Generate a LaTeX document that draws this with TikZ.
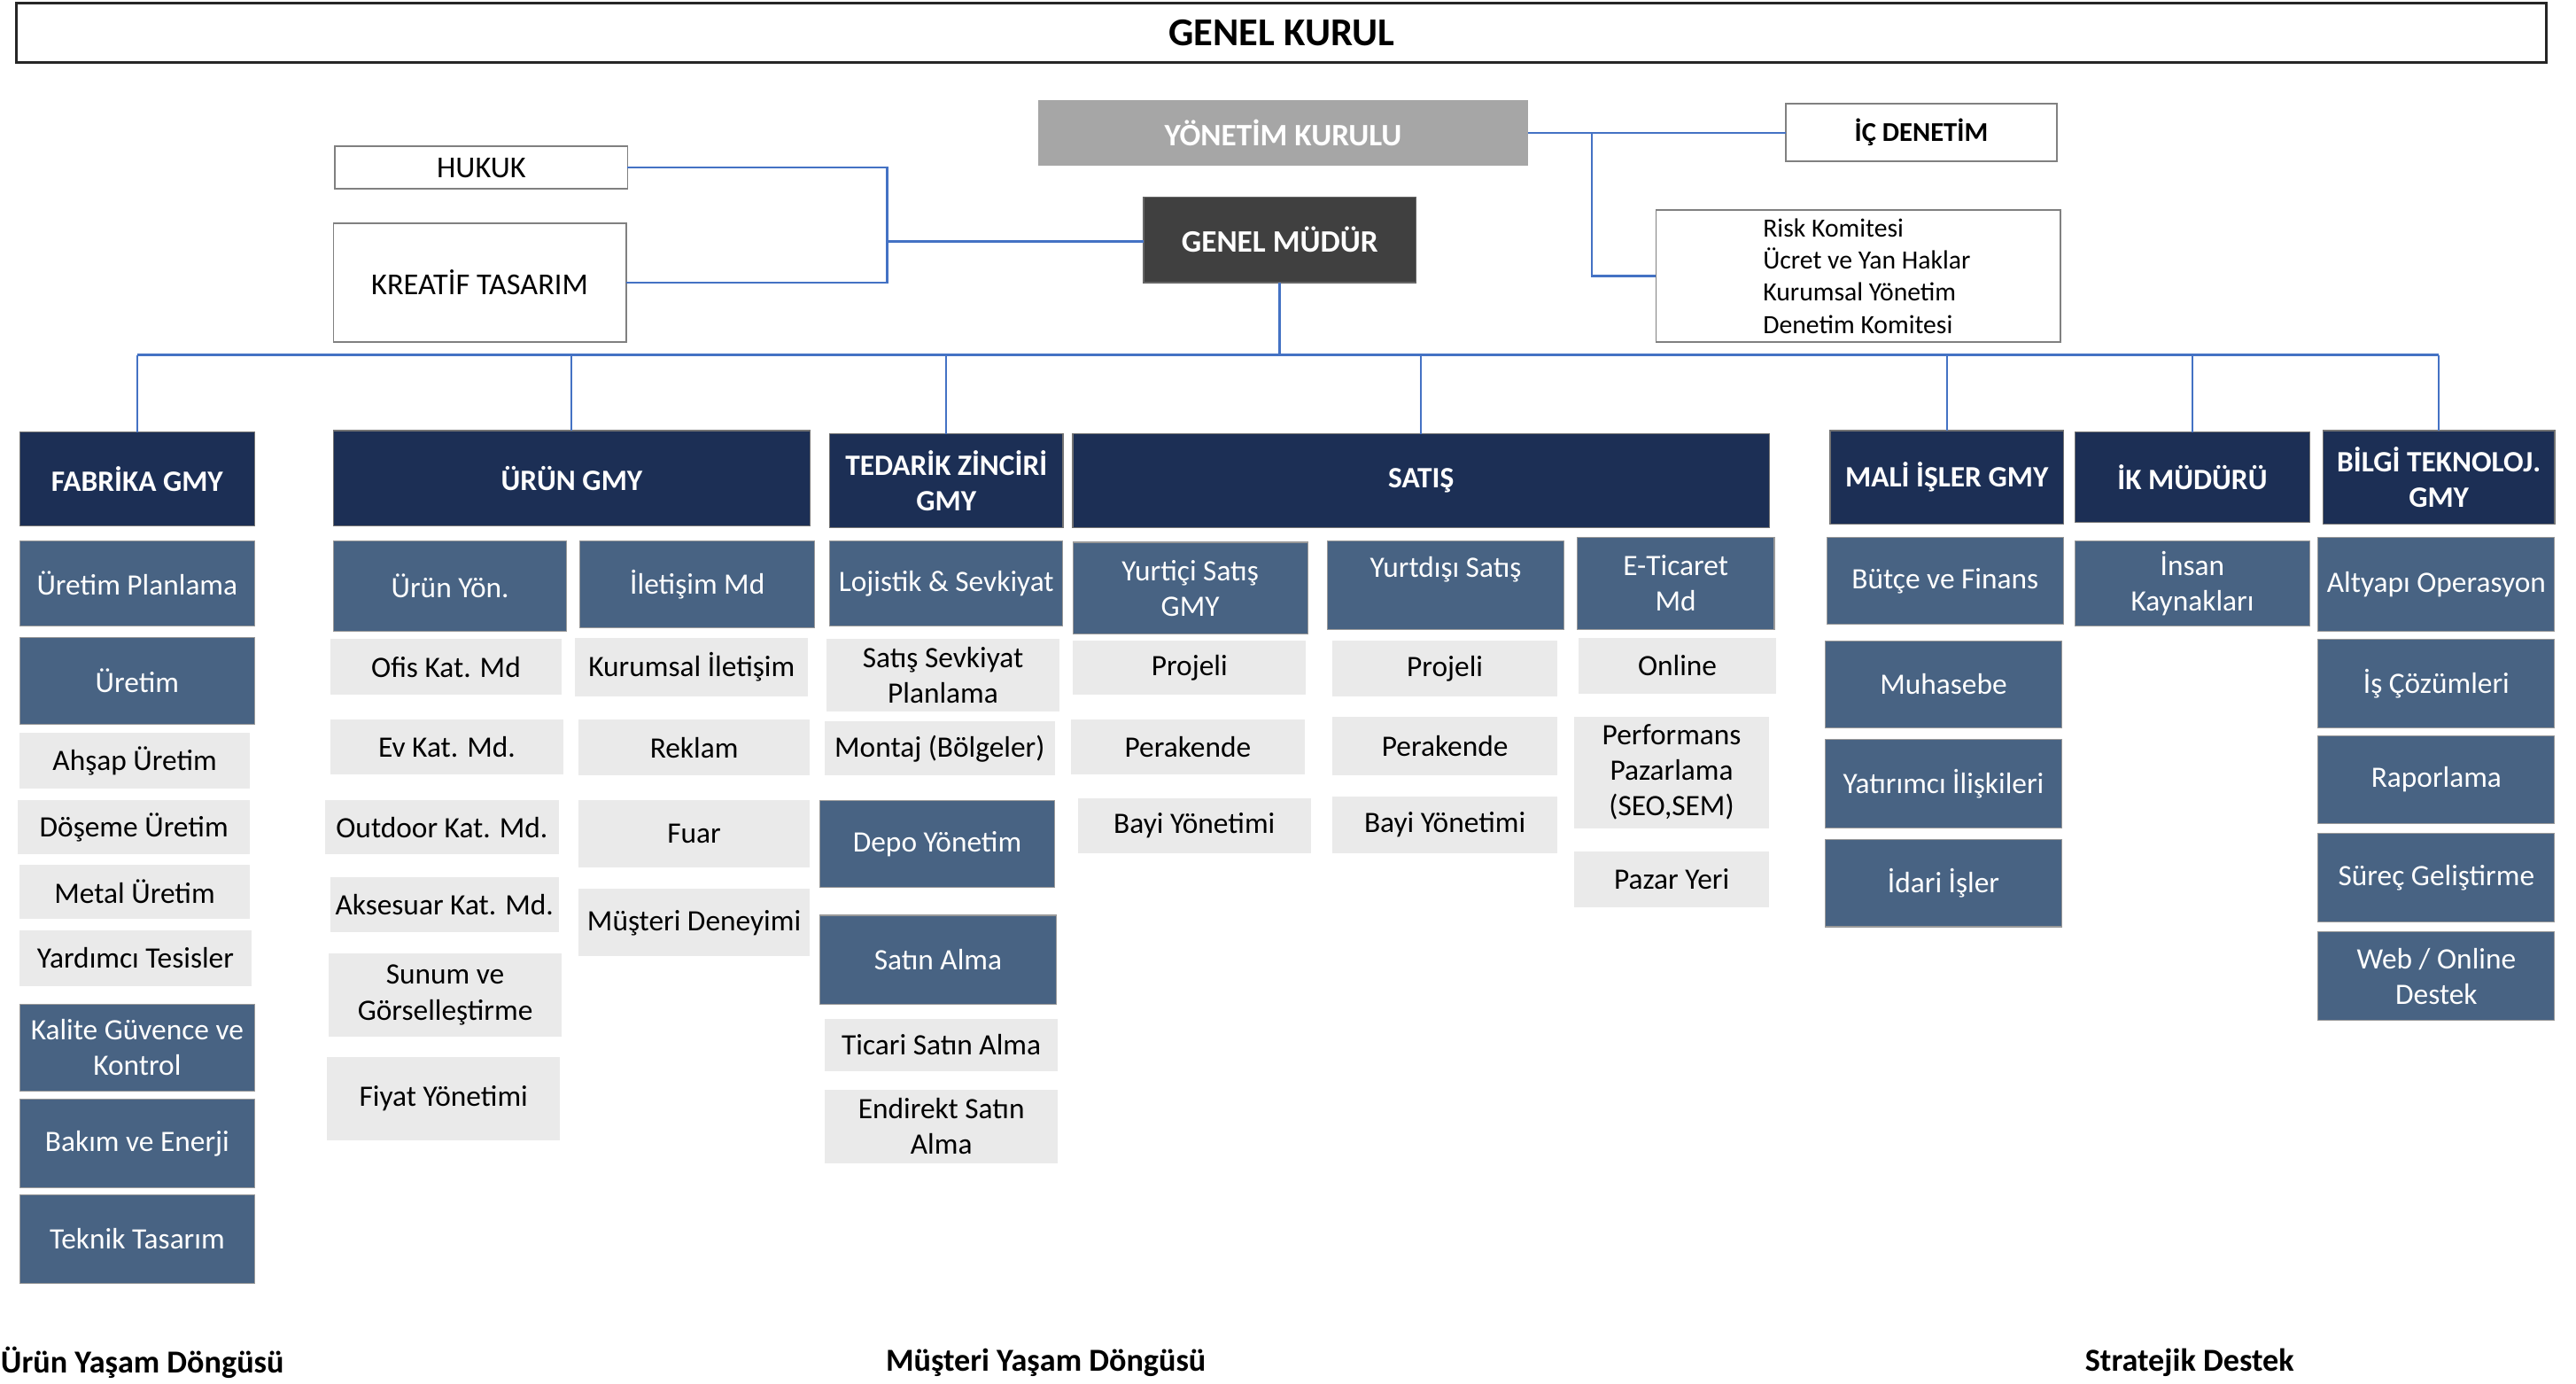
\documentclass[tikz,border=0pt]{standalone}
\usepackage{fontspec}
\setmainfont{Carlito}
\definecolor{navy}{HTML}{1C2F55}
\definecolor{slate}{HTML}{486383}
\definecolor{lightg}{HTML}{EAEAEA}
\definecolor{linkblue}{HTML}{4472C4}
\definecolor{ykgray}{HTML}{A6A6A6}
\definecolor{gmdark}{HTML}{404040}
\newcommand\obox[7]{\node[#1, minimum width={#5pt-#3pt}, minimum height={#6pt-#4pt}] (#2) at ({(#3+#5)/2},{(#4+#6)/2}) {#7};}
\tikzset{
  base/.style={rectangle, inner sep=0pt, outer sep=0pt, align=center, font=\fontsize{18}{21.6}\selectfont},
  navybox/.style={base, fill=navy, draw=black!55, line width=0.7pt, text=white, font=\fontsize{18}{21.6}\selectfont\bfseries},
  slatebox/.style={base, fill=slate, draw=black!40, line width=0.6pt, text=white},
  lightbox/.style={base, fill=lightg, text=black},
  whitebox/.style={base, fill=white, draw=black!50, line width=1pt, text=black},
  conn/.style={draw=linkblue, line width=1.3pt},
  footer/.style={font=\fontsize{19.5}{23}\selectfont\bfseries, inner sep=0pt, text=black}
}
\begin{document}
\begin{tikzpicture}[x=1pt,y=-1pt]
\useasboundingbox[fill=white] (0,0) rectangle (1568,842);
% top
\obox{base, draw=black!85, line width=1.5pt, font=\fontsize{24}{28}\selectfont\bfseries}{gk}{10}{2}{1550}{38}{GENEL KURUL}
\obox{base, fill=ykgray, text=white, font=\fontsize{19}{23}\selectfont\bfseries}{yk}{632}{61}{930}{101}{YÖNETİM KURULU}
\obox{whitebox, font=\fontsize{16.5}{20}\selectfont\bfseries}{ic}{1087}{63}{1252}{98}{İÇ DENETİM}
\obox{base, fill=gmdark, draw=black!60, line width=0.8pt, text=white, font=\fontsize{19}{23}\selectfont\bfseries}{gm}{696}{120}{862}{172}{GENEL MÜDÜR}
\obox{whitebox, font=\fontsize{18.5}{22}\selectfont}{hukuk}{204}{89}{382}{115}{HUKUK}
\obox{whitebox, font=\fontsize{18.5}{22}\selectfont}{kreatif}{203}{136}{381}{208}{KREATİF TASARIM}
\obox{whitebox}{kom}{1008}{128}{1254}{208}{}
\node[anchor=west, align=left, inner sep=0pt, font=\fontsize{16}{19.5}\selectfont] (komtext) at ([xshift=65pt]kom.west) {Risk Komitesi\\Ücret ve Yan Haklar\\Kurumsal Yönetim\\Denetim Komitesi};
% headers
\obox{navybox}{fab}{12}{263}{155}{320}{FABRİKA GMY}
\obox{navybox}{urun}{203}{262}{493}{320}{ÜRÜN GMY}
\obox{navybox}{ted}{505}{264}{647}{321}{TEDARİK ZİNCİRİ\\GMY}
\obox{navybox}{sat}{653}{264}{1077}{321}{SATIŞ}
\obox{navybox}{mali}{1114}{262}{1256}{319}{MALİ İŞLER GMY}
\obox{navybox}{ik}{1263}{263}{1406}{318}{İK MÜDÜRÜ}
\obox{navybox}{bilgi}{1414}{262}{1555}{319}{BİLGİ TEKNOLOJ.\\GMY}
% fabrika
\obox{slatebox}{uplan}{12}{329}{155}{381}{Üretim Planlama}
\obox{slatebox}{uret}{12}{388}{155}{441}{Üretim}
\obox{lightbox}{ahsap}{12}{446}{152}{480}{Ahşap Üretim}
\obox{lightbox}{doseme}{11}{487}{152}{520}{Döşeme Üretim}
\obox{lightbox}{metal}{12}{526}{152}{559}{Metal Üretim}
\obox{lightbox}{yard}{12}{566}{153}{600}{Yardımcı Tesisler}
\obox{slatebox}{kalite}{12}{611}{155}{664}{Kalite Güvence ve\\Kontrol}
\obox{slatebox}{bakim}{12}{669}{155}{723}{Bakım ve Enerji}
\obox{slatebox}{teknik}{12}{727}{155}{781}{Teknik Tasarım}
% urun
\obox{slatebox}{uyon}{203}{329}{345}{384}{Ürün Yön.}
\obox{slatebox}{iletisim}{353}{329}{496}{382}{İletişim Md}
\obox{lightbox}{ofis}{201}{389}{342}{423}{Ofis Kat. Md}
\obox{lightbox}{kurumsal}{350}{388}{492}{424}{Kurumsal İletişim}
\obox{lightbox}{ev}{201}{438}{343}{471}{Ev Kat. Md.}
\obox{lightbox}{reklam}{352}{438}{493}{472}{Reklam}
\obox{lightbox}{outdoor}{198}{487}{340}{520}{Outdoor Kat. Md.}
\obox{lightbox}{fuar}{352}{487}{493}{528}{Fuar}
\obox{lightbox}{aksesuar}{201}{534}{340}{567}{Aksesuar Kat. Md.}
\obox{lightbox}{musteri}{352}{541}{493}{582}{Müşteri Deneyimi}
\obox{lightbox}{sunum}{200}{580}{342}{631}{Sunum ve\\Görselleştirme}
\obox{lightbox}{fiyat}{199}{643}{341}{694}{Fiyat Yönetimi}
% tedarik
\obox{slatebox}{lojistik}{505}{329}{647}{381}{Lojistik \& Sevkiyat}
\obox{lightbox}{ssp}{503}{389}{645}{433}{Satış Sevkiyat\\Planlama}
\obox{lightbox}{montaj}{502}{439}{642}{472}{Montaj (Bölgeler)}
\obox{slatebox}{depo}{499}{487}{642}{540}{Depo Yönetim}
\obox{slatebox}{satin}{499}{557}{643}{611}{Satın Alma}
\obox{lightbox}{ticari}{502}{620}{644}{652}{Ticari Satın Alma}
\obox{lightbox}{endirekt}{502}{663}{644}{708}{Endirekt Satın\\Alma}
% satis
\obox{slatebox}{yurtici}{653}{330}{796}{386}{Yurtiçi Satış\\GMY}
\obox{slatebox}{yurtdisi}{808}{329}{952}{383}{Yurtdışı Satış\\~}
\obox{slatebox}{eticaret}{960}{327}{1080}{383}{E-Ticaret\\Md}
\obox{lightbox}{projA}{653}{390}{795}{423}{Projeli}
\obox{lightbox}{perA}{652}{438}{794}{471}{Perakende}
\obox{lightbox}{bayiA}{656}{486}{798}{519}{Bayi Yönetimi}
\obox{lightbox}{projB}{811}{390}{948}{424}{Projeli}
\obox{lightbox}{perB}{811}{436}{948}{472}{Perakende}
\obox{lightbox}{bayiB}{811}{485}{948}{519}{Bayi Yönetimi}
\obox{lightbox}{online}{961}{388}{1081}{422}{Online}
\obox{lightbox}{perf}{958}{436}{1077}{504}{Performans\\Pazarlama\\(SEO,SEM)}
\obox{lightbox}{pazar}{958}{518}{1077}{552}{Pazar Yeri}
% mali
\obox{slatebox}{butce}{1112}{327}{1256}{380}{Bütçe ve Finans}
\obox{slatebox}{muhasebe}{1111}{390}{1255}{443}{Muhasebe}
\obox{slatebox}{yatirimci}{1111}{450}{1255}{504}{Yatırımcı İlişkileri}
\obox{slatebox}{idari}{1111}{511}{1255}{564}{İdari İşler}
% ik
\obox{slatebox}{insan}{1263}{329}{1406}{381}{İnsan\\Kaynakları}
% bilgi
\obox{slatebox}{altyapi}{1411}{327}{1555}{384}{Altyapı Operasyon}
\obox{slatebox}{iscoz}{1411}{389}{1555}{443}{İş Çözümleri}
\obox{slatebox}{rapor}{1411}{448}{1555}{501}{Raporlama}
\obox{slatebox}{surec}{1411}{507}{1555}{561}{Süreç Geliştirme}
\obox{slatebox}{web}{1411}{567}{1555}{621}{Web / Online\\Destek}
% connectors
\coordinate (jL) at (540,147);
\coordinate (jR) at (969,81);
\coordinate (busY) at (0,216);
\draw[conn] (hukuk.east) -| (jL);
\draw[conn] (kreatif.east) -| (jL);
\draw[conn] (jL) -- (jL -| gm.west);
\draw[conn] (yk.east) -- (yk.east -| ic.west);
\draw[conn] (jR) |- (kom.west);
\draw[conn, line width=1.6pt] (fab.north |- busY) -- (bilgi.north |- busY);
\draw[conn, line width=1.6pt] (gm.south) -- (gm.south |- busY);
\foreach \n in {fab,urun,ted,sat,mali,ik,bilgi}{\draw[conn, line width=1pt] (\n.north) -- (\n.north |- busY);}
% footers
\node[footer, anchor=east] (f1) at (173,829) {Ürün Yaşam Döngüsü};
\node[footer, anchor=west] (f2) at (539,829) {Müşteri Yaşam Döngüsü};
\node[footer, anchor=west] (f3) at (1269,829) {Stratejik Destek};
\end{tikzpicture}
\end{document}
